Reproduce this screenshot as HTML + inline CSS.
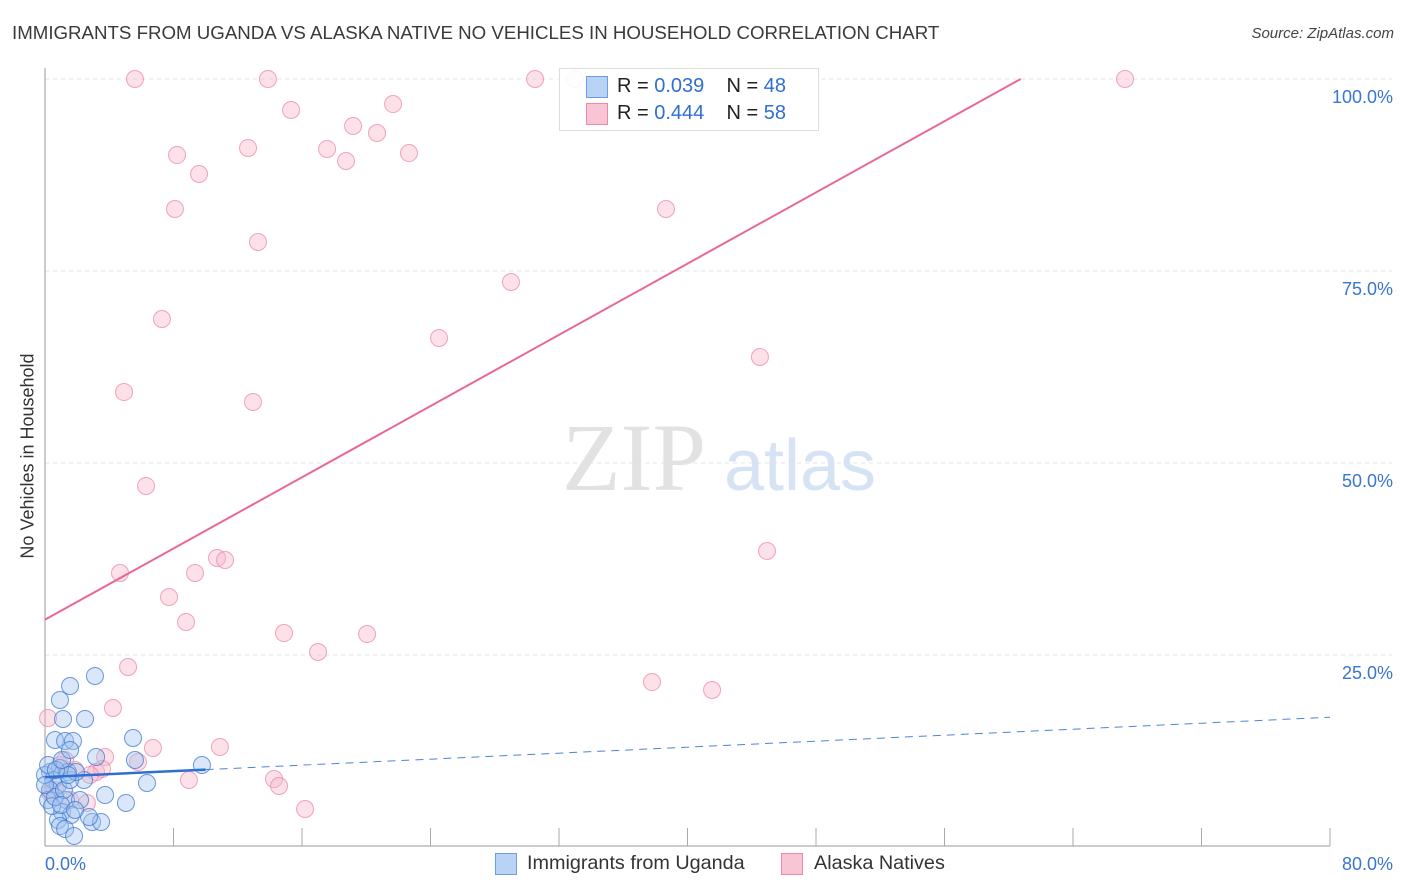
<!DOCTYPE html>
<html><head><meta charset="utf-8">
<style>
body{margin:0;background:#fff;font-family:"Liberation Sans",sans-serif;}
#wrap{position:relative;width:1406px;height:892px;overflow:hidden;}
.t{position:absolute;white-space:nowrap;}
</style></head>
<body>
<div id="wrap">
<div class="t" style="left:12px;top:22px;font-size:18.7px;color:#3a3a3a;">IMMIGRANTS FROM UGANDA VS ALASKA NATIVE NO VEHICLES IN HOUSEHOLD CORRELATION CHART</div>
<div class="t" style="right:12px;top:25px;font-size:15px;color:#444;font-style:italic;">Source: ZipAtlas.com</div>
<div class="t" style="left:28px;top:456px;font-size:18px;color:#333;transform:translate(-50%,-50%) rotate(-90deg);">No Vehicles in Household</div>
<svg id="plot" width="1406" height="892" style="position:absolute;left:0;top:0"></svg>
<div style="position:absolute;left:559px;top:68px;width:258px;height:61px;border:1px solid #ddd;background:rgba(255,255,255,0.9);">
 <div style="position:absolute;left:26px;top:7px;width:20px;height:20px;background:#b8d3f5;border:1px solid #6b9de0;"></div>
 <div class="t" style="left:57px;top:6px;font-size:20px;color:#222;">R = <span style="color:#2f6fd0">0.039</span>&nbsp;&nbsp;&nbsp; N = <span style="color:#2f6fd0">48</span></div>
 <div style="position:absolute;left:26px;top:34px;width:20px;height:20px;background:#f9c5d5;border:1px solid #e88aa8;"></div>
 <div class="t" style="left:57px;top:33px;font-size:20px;color:#222;">R = <span style="color:#2f6fd0">0.444</span>&nbsp;&nbsp;&nbsp; N = <span style="color:#2f6fd0">58</span></div>
</div>
<div style="position:absolute;left:495px;top:853px;width:20px;height:20px;background:#b8d3f5;border:1px solid #6b9de0;"></div>
<div class="t" style="left:527px;top:852px;font-size:19.8px;color:#333;">Immigrants from Uganda</div>
<div style="position:absolute;left:781px;top:853px;width:20px;height:20px;background:#f9c5d5;border:1px solid #e88aa8;"></div>
<div class="t" style="left:814px;top:852px;font-size:19.8px;color:#333;">Alaska Natives</div>
</div>
<script>
const xTicks=[0,8,16,24,32,40,48,56,64,72,80];
const yTicks=[25,50,75,100];
const xLabels=["0.0%","80.0%"];
const pinkPx=[[135,79],[268,79],[535,79],[575,79],[1125,79],[291,110],[393,104],[353,126],[377,133],[177,155],[248,148],[327,149],[346,161],[409,153],[199,174],[175,209],[666,209],[258,242],[511,282],[162,319],[439,338],[760,357],[124,392],[253,402],[146,486],[767,551],[217,558],[225,560],[120,573],[195,573],[169,597],[186,622],[284,633],[367,634],[318,652],[128,667],[652,682],[712,690],[113,708],[48,718],[153,748],[220,747],[105,757],[138,762],[60,765],[96,772],[102,769],[90,775],[75,770],[189,780],[274,779],[279,786],[305,809],[87,803],[70,800],[55,790],[50,793],[65,760]];
const bluePx=[[95,676],[70,686],[60,700],[63,719],[85,719],[55,740],[65,741],[73,741],[133,738],[96,757],[60,768],[68,772],[50,772],[53,780],[58,785],[84,780],[147,783],[202,765],[135,760],[105,795],[126,803],[66,800],[62,812],[71,815],[58,820],[60,826],[65,829],[92,822],[101,822],[74,836],[50,790],[48,800],[52,806],[55,797],[64,790],[70,780],[76,772],[45,775],[45,785],[48,765],[80,800],[61,805],[75,810],[89,817],[68,775],[56,770],[62,760],[70,750]];
const alaskaX=pinkPx.map(p=>+((p[0]-45)/1285*80).toFixed(2));
const alaskaY=pinkPx.map(p=>+((847-p[1])/768*100).toFixed(2));
const ugandaX=bluePx.map(p=>+((p[0]-45)/1285*80).toFixed(2));
const ugandaY=bluePx.map(p=>+((847-p[1])/768*100).toFixed(2));
const alaskaTrend=[29.6,1.159];
const ugandaTrend=[9.1,0.0975];
const ugandaSolidMaxX=10;

const X=v=>45+v/80*1285, Y=v=>847-v/100*768;
const svg=document.getElementById('plot');const NS='http://www.w3.org/2000/svg';
function mk(t,a){const e=document.createElementNS(NS,t);for(const k in a)e.setAttribute(k,a[k]);svg.appendChild(e);return e;}
yTicks.forEach(v=>{
 const g=mk('line',{x1:45,x2:1392,y1:Y(v),y2:Y(v),stroke:'#e4e4e4','stroke-dasharray':'4,4'});
 
 
 const t=mk('text',{x:1393,y:Y(v)+24,'text-anchor':'end','font-size':18,fill:'#3a75d0','font-family':'Liberation Sans'});t.textContent=v.toFixed(1)+'%';
 
 
});
const ax=mk('line',{x1:45,x2:45,y1:68,y2:846,stroke:'#999'});


const bx=mk('line',{x1:45,x2:1330,y1:846,y2:846,stroke:'#999'});


xTicks.slice(1).forEach(v=>{const l=mk('line',{x1:X(v),x2:X(v),y1:828,y2:846,stroke:'#aaa'});
 
 });
[[0,'start'],[80,'end']].forEach((p,i)=>{const t=mk('text',{x:i?1393:45,y:870,'text-anchor':p[1],'font-size':18,fill:'#3a75d0','font-family':'Liberation Sans'});t.textContent=xLabels[i];
 
 });
const w1=mk('text',{x:634,y:490,'text-anchor':'middle','font-size':96,fill:'#e2e2e2','font-family':'Liberation Serif'});w1.textContent='ZIP';


const w2=mk('text',{x:800,y:490,'text-anchor':'middle','font-size':72,fill:'#d6e3f5','font-family':'Liberation Sans'});w2.textContent='atlas';


alaskaX.forEach((x,i)=>{const c=mk('circle',{cx:X(x),cy:Y(alaskaY[i]),r:8.5,fill:'rgba(248,180,200,0.4)',stroke:'rgba(232,130,165,0.7)','stroke-width':1});
 
 });
ugandaX.forEach((x,i)=>{const c=mk('circle',{cx:X(x),cy:Y(ugandaY[i]),r:8.5,fill:'rgba(160,196,240,0.4)',stroke:'rgba(60,120,210,0.75)','stroke-width':1});
 
 });
const xEnd=(100-alaskaTrend[0])/alaskaTrend[1];
const pl=mk('line',{x1:X(0),y1:Y(alaskaTrend[0]),x2:X(xEnd),y2:Y(100),stroke:'#e8679a','stroke-width':2});


const bs=mk('line',{x1:X(0),y1:Y(ugandaTrend[0]),x2:X(ugandaSolidMaxX),y2:Y(ugandaTrend[0]+ugandaTrend[1]*ugandaSolidMaxX),stroke:'#2f6fd0','stroke-width':2.5});


const bd=mk('line',{x1:X(ugandaSolidMaxX),y1:Y(ugandaTrend[0]+ugandaTrend[1]*ugandaSolidMaxX),x2:X(80),y2:Y(ugandaTrend[0]+ugandaTrend[1]*80),stroke:'#4a85d8','stroke-width':1,'stroke-dasharray':'8,6'});


</script>
</body></html>
